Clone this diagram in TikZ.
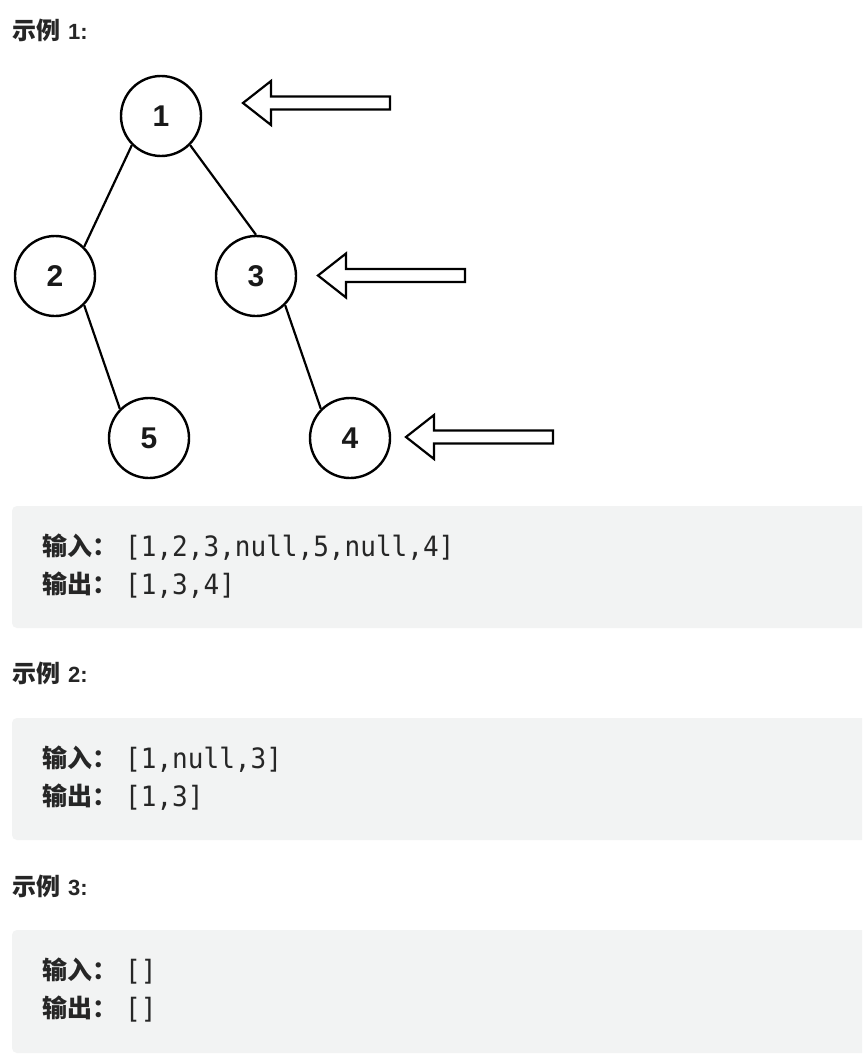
\documentclass[tikz,border=0pt]{standalone}
\usepackage{fontspec}
\setmainfont{Liberation Sans}
\newfontfamily\cjkfont{Noto Sans CJK SC}
\newfontfamily\monofont[FakeStretch=0.93]{DejaVu Sans Mono}
\definecolor{boxgray}{HTML}{F2F3F3}
\definecolor{txt}{HTML}{262626}
\begin{document}
\begin{tikzpicture}[x=1pt,y=-1pt,
  treenode/.style={circle,draw=black,line width=2.4pt,minimum size=80pt,inner sep=0pt,text=black!90,font=\fontsize{30}{30}\selectfont\bfseries},
  edge/.style={line width=2.2pt,draw=black},
  blockarrow/.style={draw=black,line width=2.2pt,fill=white,line join=miter},
  bigarrow/.pic={\path[blockarrow] (0,0) -- (28,-22) -- (28,-6.5) -- (147,-6.5) -- (147,6.5) -- (28,6.5) -- (28,22) -- cycle;},
  heading/.style={anchor=base west,inner sep=0pt,text=txt},
  headlat/.style={anchor=base west,inner sep=0pt,text=txt,font=\fontsize{22}{22}\selectfont\bfseries},
  codebox/.style={fill=boxgray,rounded corners=5pt},
  lbl/.style={anchor=base west,inner sep=0pt,text=txt,font=\cjkfont\fontsize{25}{25}\selectfont\bfseries},
  code/.style={anchor=base west,inner sep=0pt,text=txt,font=\monofont\fontsize{28}{28}\selectfont}
]
\clip (0,0) rectangle (862,1062);
\fill[white] (0,0) rectangle (862,1062);
% heading 1
\node[heading] (h1) at (12,40) {{\cjkfont\fontsize{24}{24}\selectfont\bfseries 示例}\hspace{8pt}{\fontsize{22}{22}\selectfont\bfseries 1:}};
% tree
\node[treenode] (n1) at (161,116) {1};
\node[treenode] (n2) at (55,276) {2};
\node[treenode] (n3) at (256,276) {3};
\node[treenode] (n5) at (149,438) {5};
\node[treenode] (n4) at (350,438) {4};
\draw[edge] (n1.south west) -- (n2.north east);
\draw[edge] (n1.south east) -- (n3.north);
\draw[edge] (n2.south east) -- (n5.north west);
\draw[edge] (n3.south east) -- (n4.north west);
% arrows
\coordinate (t1) at (243,103);
\coordinate (t2) at (318,275.5);
\coordinate (t3) at (406,437);
\pic at (t1) {bigarrow};
\pic at (t2) {bigarrow};
\pic at (t3) {bigarrow};
% box 1
\fill[codebox] (12,506) rectangle (880,628);
\node[lbl] (in1) at (42,555) {输入：};
\node[code] (iv1) at (125,556) {[1,2,3,null,5,null,4]};
\node[lbl] (out1) at (42,593) {输出：};
\node[code] (ov1) at (125,594) {[1,3,4]};
% heading 2
\node[heading] (h2) at (12,682) {{\cjkfont\fontsize{24}{24}\selectfont\bfseries 示例}\hspace{8pt}{\fontsize{22}{22}\selectfont\bfseries 2:}};
\fill[codebox] (12,718) rectangle (880,840);
\node[lbl] (in2) at (42,767) {输入：};
\node[code] (iv2) at (125,768) {[1,null,3]};
\node[lbl] (out2) at (42,805) {输出：};
\node[code] (ov2) at (125,806) {[1,3]};
% heading 3
\node[heading] (h3) at (12,895) {{\cjkfont\fontsize{24}{24}\selectfont\bfseries 示例}\hspace{8pt}{\fontsize{22}{22}\selectfont\bfseries 3:}};
\fill[codebox] (12,930) rectangle (880,1053);
\node[lbl] (in3) at (42,979) {输入：};
\node[code] (iv3) at (125,980) {[]};
\node[lbl] (out3) at (42,1017) {输出：};
\node[code] (ov3) at (125,1018) {[]};
\end{tikzpicture}
\end{document}
